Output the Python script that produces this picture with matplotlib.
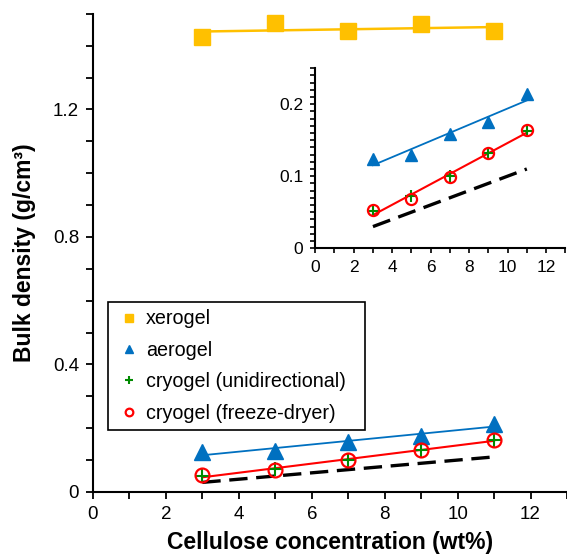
import numpy as np
import matplotlib
matplotlib.use("Agg")
import matplotlib.pyplot as plt
from matplotlib.ticker import MultipleLocator, FuncFormatter

plt.rcParams['font.family'] = ['Liberation Sans', 'DejaVu Sans']

# cellulose concentration (wt%)
conc = [3, 5, 7, 9, 11]

# bulk densities (g/cm3)
xerogel = [1.427, 1.471, 1.446, 1.468, 1.446]
aerogel = [0.124, 0.130, 0.158, 0.175, 0.214]
cryo_uni = [0.051, 0.073, 0.100, 0.132, 0.163]
cryo_fd = [0.053, 0.068, 0.099, 0.132, 0.164]
# dashed reference line
dashed_ref = [0.03, 0.05, 0.07, 0.09, 0.11]

c_xero = '#FFC000'
c_aero = '#0070C0'
c_uni = '#008A00'
c_fd = '#FF0000'


def trend(x, y):
    # linear trendline over the measured range
    k, b = np.polyfit(x, y, 1)
    xs = np.array([x[0], x[-1]])
    return xs, k * xs + b


def fmt(v, pos):
    return '0' if abs(v) < 1e-9 else ('%g' % round(v, 2))


def draw(ax, ms_scale=1.0, with_labels=False):
    xs, ys = trend(conc, aerogel)
    ax.plot(xs, ys, color=c_aero, lw=1.3, zorder=2)
    xs, ys = trend(conc, cryo_fd)
    ax.plot(xs, ys, color=c_fd, lw=1.5, zorder=2)
    ax.plot(conc, dashed_ref, color='black', lw=2.4, dashes=(5.5, 2.6), zorder=2)
    ax.plot(conc, aerogel, ls='none', marker='^', ms=11.5 * ms_scale, color=c_aero,
            label='aerogel' if with_labels else None, zorder=3)
    ax.plot(conc, cryo_uni, ls='none', marker='+', ms=10.5 * ms_scale, mew=1.5, color=c_uni,
            label='cryogel (unidirectional)' if with_labels else None, zorder=4)
    ax.plot(conc, cryo_fd, ls='none', marker='o', ms=10 * ms_scale, mew=1.6, mfc='none',
            mec=c_fd, label='cryogel (freeze-dryer)' if with_labels else None, zorder=5)


fig = plt.figure(figsize=(5.67, 5.54), dpi=100)
ax = fig.add_axes([0.164, 0.112, 0.836, 0.863])

xs, ys = trend(conc, xerogel)
ax.plot(xs, ys, color=c_xero, lw=1.8, zorder=2)
ax.plot(conc, xerogel, ls='none', marker='s', ms=11.5, color=c_xero, label='xerogel', zorder=3)
draw(ax, with_labels=True)

ax.set_xlim(0, 13)
ax.set_ylim(0, 1.5)
ax.xaxis.set_major_locator(MultipleLocator(2))
ax.xaxis.set_minor_locator(MultipleLocator(1))
ax.yaxis.set_major_locator(MultipleLocator(0.4))
ax.yaxis.set_minor_locator(MultipleLocator(0.1))
ax.yaxis.set_major_formatter(FuncFormatter(fmt))
for s in ['top', 'right']:
    ax.spines[s].set_visible(False)
for s in ['left', 'bottom']:
    ax.spines[s].set_linewidth(1.5)
ax.tick_params(which='both', direction='out', length=5, width=1.3, labelsize=13.5, pad=5)
ax.set_xlabel('Cellulose concentration (wt%)', fontsize=16.5, fontweight='bold', labelpad=6)
ax.set_ylabel('Bulk density (g/cm³)', fontsize=16.5, fontweight='bold', labelpad=12)

# legend box spans x 108..365 px, top at 302 px
leg = ax.legend(loc='upper left',
                bbox_to_anchor=(108 / 567, 1 - 302 / 554, 257 / 567, 0.0),
                bbox_transform=fig.transFigure, mode='expand', borderaxespad=0,
                fontsize=14.2, markerscale=0.55, handlelength=1.4, handletextpad=0.15,
                borderpad=0.38, labelspacing=0.63, fancybox=False, framealpha=1,
                edgecolor='black')
leg.get_frame().set_linewidth(1.2)

# inset
ins = fig.add_axes([0.556, 0.552, 0.441, 0.325])
draw(ins, ms_scale=0.8)
ins.set_xlim(0, 13)
ins.set_ylim(0, 0.25)
ins.xaxis.set_major_locator(MultipleLocator(2))
ins.xaxis.set_minor_locator(MultipleLocator(1))
ins.yaxis.set_major_locator(MultipleLocator(0.1))
ins.yaxis.set_minor_locator(MultipleLocator(0.01))
ins.yaxis.set_major_formatter(FuncFormatter(fmt))
for s in ['top', 'right']:
    ins.spines[s].set_visible(False)
for s in ['left', 'bottom']:
    ins.spines[s].set_linewidth(1.5)
ins.tick_params(which='both', direction='out', length=3.5, width=1.2, labelsize=12.5, pad=5)
ins.patch.set_alpha(0)

fig.savefig('out.png', dpi=100)
